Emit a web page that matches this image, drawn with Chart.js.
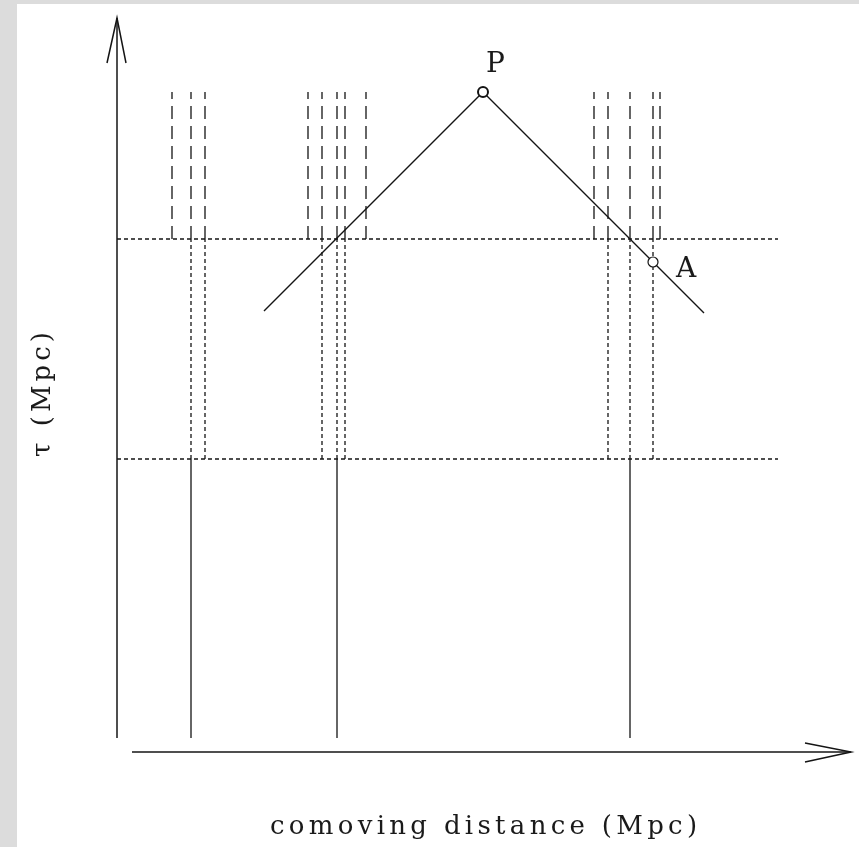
<!DOCTYPE html>
<html><head><meta charset="utf-8">
<script src="https://cdn.jsdelivr.net/npm/chart.js@4"></script>
<style>html,body{margin:0;padding:0;background:#dcdcdc}canvas{display:block}</style>
</head><body>
<canvas id="c" width="859" height="847"></canvas>
<script>
// Comoving positions (Mpc) of the worldlines in each epoch
const dashedX = [55, 74, 88, 191, 205, 220, 228, 249, 477, 491, 513, 536, 543];
const dottedX = [74, 88, 205, 220, 228, 491, 513, 536];
const solidX = [74, 220, 513];
// Conformal time (Mpc) at the boundaries between epochs
const epochTau = [15, 294, 514, 661];
const sliceX = [0, 661];
// Past light cone of the event P
const coneX = [147, 366, 587];
const coneTau = [442, 661, 440];
// Marked events
const eventNames = ['P', 'A'];
const eventX = [366, 536];
const eventTau = [661, 491];
const eventRing = [2, 1.2];
// Axis extents (Mpc)
const axisX = [15, 734];
const axisTau = [15, 735];

const INK = '#141414';
const SERIF = '"DejaVu Serif", serif';

function segment(x0, y0, x1, y1, dash, width) {
  return {
    type: 'line',
    data: [{x: x0, y: y0}, {x: x1, y: y1}],
    borderColor: INK, borderWidth: width || 1.3, borderDash: dash || [],
    pointRadius: 0, clip: false, order: 2, tension: 0
  };
}

const datasets = [];
// Worldlines: solid (early), dotted (middle), dashed (late epoch)
solidX.forEach(x => datasets.push(segment(x, epochTau[0], x, epochTau[1])));
dottedX.forEach(x => datasets.push(segment(x, epochTau[1], x, epochTau[2], [4, 3])));
dashedX.forEach(x => datasets.push(segment(x, epochTau[2], x, epochTau[3], [13, 7])));
// Constant-time slices
[epochTau[1], epochTau[2]].forEach(t => datasets.push(segment(sliceX[0], t, sliceX[1], t, [4, 3])));
// Light cone
datasets.push({
  type: 'line',
  data: coneX.map((x, i) => ({x, y: coneTau[i]})),
  borderColor: INK, borderWidth: 1.4, pointRadius: 0, clip: false, order: 2, tension: 0
});
// Axes with arrowheads
datasets.push(segment(0, axisTau[0], 0, axisTau[1], [], 1.5));
datasets.push({
  type: 'line',
  data: [{x: -10, y: axisTau[1] - 45}, {x: 0, y: axisTau[1]}, {x: 9, y: axisTau[1] - 45}],
  borderColor: INK, borderWidth: 1.5, pointRadius: 0, clip: false, order: 2, tension: 0
});
datasets.push(segment(axisX[0], 1, axisX[1], 1, [], 1.5));
datasets.push({
  type: 'line',
  data: [{x: axisX[1] - 46, y: 10}, {x: axisX[1], y: 1}, {x: axisX[1] - 46, y: -9}],
  borderColor: INK, borderWidth: 1.5, pointRadius: 0, clip: false, order: 2, tension: 0
});
// Events
datasets.push({
  type: 'scatter',
  data: eventX.map((x, i) => ({x, y: eventTau[i]})),
  pointRadius: 5, pointBorderWidth: eventRing, pointBorderColor: INK,
  pointBackgroundColor: '#ffffff', showLine: false, clip: false, order: 0
});

// Draws text spread evenly so that it spans the given width
function spacedText(ctx, text, x, y, span) {
  ctx.letterSpacing = '0px';
  const w = ctx.measureText(text).width;
  const gap = (span - w) / (text.length - 1);
  ctx.letterSpacing = gap.toFixed(2) + 'px';
  ctx.fillText(text, x, y);
}

const decor = {
  id: 'decor',
  beforeDraw(chart) {
    const ctx = chart.ctx;
    ctx.save();
    ctx.fillStyle = '#dcdcdc';
    ctx.fillRect(0, 0, chart.width, chart.height);
    ctx.fillStyle = '#ffffff';
    ctx.fillRect(17, 4, chart.width - 17, chart.height - 4);
    ctx.restore();
  },
  afterDraw(chart) {
    const ctx = chart.ctx;
    const xs = chart.scales.x, ys = chart.scales.y;
    ctx.save();
    ctx.fillStyle = '#1a1a1a';
    ctx.textBaseline = 'alphabetic';
    ctx.textAlign = 'left';
    // Event labels
    ctx.font = '28px ' + SERIF;
    const offs = [[3, -20], [23, 15]];
    eventNames.forEach((n, i) => {
      const px = xs.getPixelForValue(eventX[i]);
      const py = ys.getPixelForValue(eventTau[i]);
      ctx.fillText(n, px + offs[i][0], py + offs[i][1]);
    });
    // Axis titles
    ctx.font = '26px ' + SERIF;
    spacedText(ctx, 'comoving distance (Mpc)', 270, 834, 427);
    ctx.translate(50, 457);
    ctx.rotate(-Math.PI / 2);
    spacedText(ctx, '\u03C4 (Mpc)', 0, 0, 125);
    ctx.restore();
  }
};

new Chart(document.getElementById('c'), {
  type: 'line',
  data: {datasets},
  options: {
    responsive: false, animation: false,
    layout: {padding: {left: 117, top: 18, right: 9, bottom: 94}},
    scales: {
      x: {type: 'linear', min: 0, max: 733, display: false},
      y: {type: 'linear', min: 0, max: 735, display: false}
    },
    plugins: {legend: {display: false}, tooltip: {enabled: false}}
  },
  plugins: [decor]
});
</script>
</body></html>
